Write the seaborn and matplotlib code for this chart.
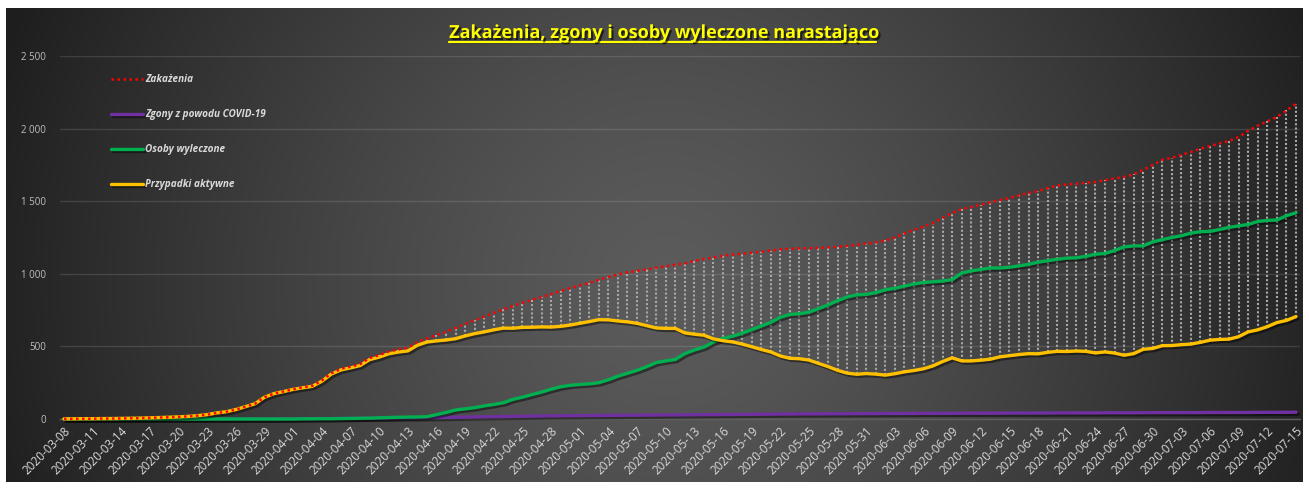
import matplotlib
matplotlib.use("Agg")
import matplotlib.pyplot as plt
import matplotlib.ticker as ticker
import matplotlib.patheffects as pe
import numpy as np
import pandas as pd
import seaborn as sns

sns.set_theme(style="dark")
plt.rcParams['font.family'] = ['Open Sans', 'DejaVu Sans']

dates = pd.date_range("2020-03-08", "2020-07-15").strftime("%Y-%m-%d").tolist()

zakazenia = [
    1, 1, 2, 2, 3, 3, 4, 5, 6, 8, 10, 12, 15, 18, 23, 30, 42, 50, 65, 85,
    105, 150, 175, 190, 205, 218, 228, 265, 315, 345, 360, 378, 420, 440, 465, 480, 490, 530, 555, 578,
    600, 627, 655, 680, 705, 730, 755, 778, 800, 820, 840, 860, 882, 902, 920, 937, 958, 978, 995, 1010,
    1020, 1030, 1042, 1052, 1062, 1072, 1088, 1102, 1112, 1125, 1132, 1138, 1145, 1152, 1160, 1168, 1172, 1175, 1176, 1178,
    1182, 1186, 1192, 1200, 1208, 1216, 1230, 1250, 1278, 1302, 1325, 1350, 1385, 1420, 1445, 1460, 1475, 1492, 1508, 1522,
    1540, 1556, 1570, 1590, 1608, 1615, 1620, 1628, 1632, 1645, 1657, 1667, 1685, 1715, 1750, 1784, 1800, 1818, 1840, 1862,
    1880, 1898, 1915, 1942, 1985, 2020, 2050, 2080, 2125, 2172,
]
zgony = [
    0, 0, 0, 0, 0, 0, 0, 0, 0, 0, 0, 0, 0, 0, 0, 0, 0, 0, 0, 0,
    0, 0, 0, 1, 1, 2, 2, 3, 3, 4, 4, 5, 5, 6, 6, 7, 8, 8, 9, 10,
    11, 12, 13, 14, 15, 16, 17, 18, 19, 20, 21, 22, 22, 23, 23, 24, 24, 25, 25, 26,
    26, 27, 27, 28, 28, 29, 29, 30, 30, 31, 31, 32, 32, 33, 33, 34, 34, 35, 35, 35,
    36, 36, 36, 37, 37, 37, 38, 38, 38, 38, 39, 39, 39, 39, 40, 40, 40, 40, 40, 41,
    41, 41, 41, 41, 42, 42, 42, 42, 42, 43, 43, 43, 43, 43, 44, 44, 44, 44, 44, 44,
    45, 45, 45, 45, 45, 46, 46, 46, 46, 47,
]
wyleczone = [
    0, 0, 0, 0, 0, 0, 0, 0, 0, 0, 0, 0, 0, 0, 0, 0, 0, 0, 0, 0,
    0, 0, 0, 0, 0, 1, 1, 2, 2, 3, 4, 5, 6, 8, 10, 12, 13, 14, 16, 30,
    45, 62, 70, 78, 90, 100, 112, 135, 150, 168, 185, 205, 222, 232, 238, 242, 250, 270, 295, 315,
    335, 360, 388, 400, 410, 450, 475, 495, 530, 555, 570, 590, 615, 640, 665, 700, 720, 725, 735, 760,
    785, 815, 840, 855, 858, 870, 890, 900, 915, 930, 940, 945, 950, 960, 1005, 1020, 1030, 1040, 1040, 1045,
    1055, 1065, 1080, 1090, 1100, 1108, 1110, 1120, 1135, 1140, 1160, 1185, 1192, 1192, 1220, 1235, 1250, 1262, 1280, 1290,
    1292, 1305, 1320, 1330, 1340, 1360, 1368, 1370, 1400, 1420,
]
aktywne = [
    1, 1, 2, 2, 3, 3, 4, 5, 6, 8, 10, 12, 15, 18, 23, 30, 42, 50, 65, 85,
    105, 150, 175, 189, 204, 215, 225, 260, 310, 338, 352, 368, 409, 426, 449, 461, 469, 508, 530, 538,
    544, 553, 572, 588, 600, 614, 626, 625, 631, 632, 634, 633, 638, 647, 659, 671, 684, 683, 675, 669,
    659, 643, 627, 624, 624, 593, 584, 577, 552, 539, 531, 516, 498, 479, 462, 434, 418, 415, 406, 383,
    361, 335, 316, 308, 313, 309, 302, 312, 325, 334, 346, 366, 396, 421, 400, 400, 405, 412, 428, 436,
    444, 450, 449, 459, 466, 465, 468, 466, 455, 462, 454, 439, 450, 480, 486, 505, 506, 512, 516, 528,
    543, 548, 550, 567, 600, 614, 636, 664, 679, 705,
]

W, H = 1309, 488
fig = plt.figure(figsize=(W / 100, H / 100), dpi=100, facecolor="white")

# radial grey background of the chart area
bg = fig.add_axes([6 / W, 6 / H, 1297 / W, 474 / H], zorder=0)
gx, gy = np.meshgrid(np.linspace(0, 1297, 400), np.linspace(0, 474, 160))
r = np.sqrt(((gx - 660) / 700) ** 2 + ((gy - 200) / 700) ** 2)
r = np.clip(r, 0, 1)
shade = 0.36 - (0.36 - 0.12) * r ** 1.3
bg.imshow(np.dstack([shade] * 3), extent=[0, 1, 0, 1], aspect="auto", origin="lower")
bg.set_axis_off()

ax = fig.add_axes([60 / W, (H - 419) / H, 1240 / W, 363 / H], zorder=1)
ax.set_facecolor("none")

x = np.arange(len(dates))
shadow = [pe.SimpleLineShadow(offset=(1.5, -1.5), shadow_color="black", alpha=0.45), pe.Normal()]

# drop lines between cases and active cases
ax.vlines(x, aktywne, zakazenia, colors="#a8a8a8", linestyles=(0, (1, 1)), lw=1.5, zorder=2)

sns.lineplot(x=x, y=zgony, ax=ax, color="#7030A0", lw=2.4, zorder=3, clip_on=False,
             path_effects=shadow, label="Zgony z powodu COVID-19")
sns.lineplot(x=x, y=wyleczone, ax=ax, color="#00B050", lw=2.4, zorder=4, clip_on=False,
             path_effects=shadow, label="Osoby wyleczone")
sns.lineplot(x=x, y=aktywne, ax=ax, color="#FFC000", lw=2.4, zorder=5, clip_on=False,
             path_effects=shadow, label="Przypadki aktywne")
sns.lineplot(x=x, y=zakazenia, ax=ax, color="#FF0000", lw=1.8, linestyle=(0, (1, 1.4)),
             zorder=6, clip_on=False, label="Zakażenia")

ax.set_xlim(-0.42, len(dates) - 1 + 0.42)
ax.set_ylim(0, 2500)
ax.yaxis.set_major_locator(ticker.MultipleLocator(500))
ax.yaxis.set_major_formatter(ticker.FuncFormatter(lambda v, _: f"{int(v):,}".replace(",", " ")))
ax.set_xticks(x[::3])
ax.set_xticklabels(dates[::3], rotation=45, ha="right", rotation_mode="anchor")
ax.tick_params(axis="x", length=0, pad=4, labelsize=8.5, labelcolor="#d9d9d9")
ax.tick_params(axis="y", length=0, pad=10, labelsize=7, labelcolor="#bfbfbf")
ax.grid(axis="y", color="white", alpha=0.12, lw=1)
ax.grid(axis="x", visible=False)
for s in ["top", "right", "left"]:
    ax.spines[s].set_visible(False)
ax.spines["bottom"].set_color("#5e5e5e")
ax.spines["bottom"].set_linewidth(1)
ax.set_xlabel("")
ax.set_ylabel("")

handles, labels = ax.get_legend_handles_labels()
order = [labels.index(l) for l in ["Zakażenia", "Zgony z powodu COVID-19", "Osoby wyleczone", "Przypadki aktywne"]]
leg = ax.legend([handles[i] for i in order], [labels[i] for i in order],
                loc="upper left", bbox_to_anchor=(0.034, 0.975), frameon=False,
                handlelength=3.2, handletextpad=0.2, labelspacing=2.4,
                prop={"style": "italic", "weight": "bold", "size": 7.2}, labelcolor="#d9d9d9")

title = fig.text(662.5 / W, (H - 38) / H, "Zakażenia, zgony i osoby wyleczone narastająco",
                 ha="center", va="baseline", fontsize=13, fontweight="bold", color="#FFFF00",
                 path_effects=[pe.withSimplePatchShadow(offset=(1.5, -1.5), shadow_rgbFace="black", alpha=0.6)])
fig.canvas.draw()
bb = title.get_window_extent(fig.canvas.get_renderer())
uy = (H - 41.5) / H
fig.add_artist(plt.Line2D([bb.x0 / W, bb.x1 / W], [uy, uy], color="#FFFF00", lw=1.6,
                          path_effects=[pe.SimpleLineShadow(offset=(1, -1), alpha=0.5), pe.Normal()]))

fig.savefig("out.png", dpi=100, facecolor="white")
